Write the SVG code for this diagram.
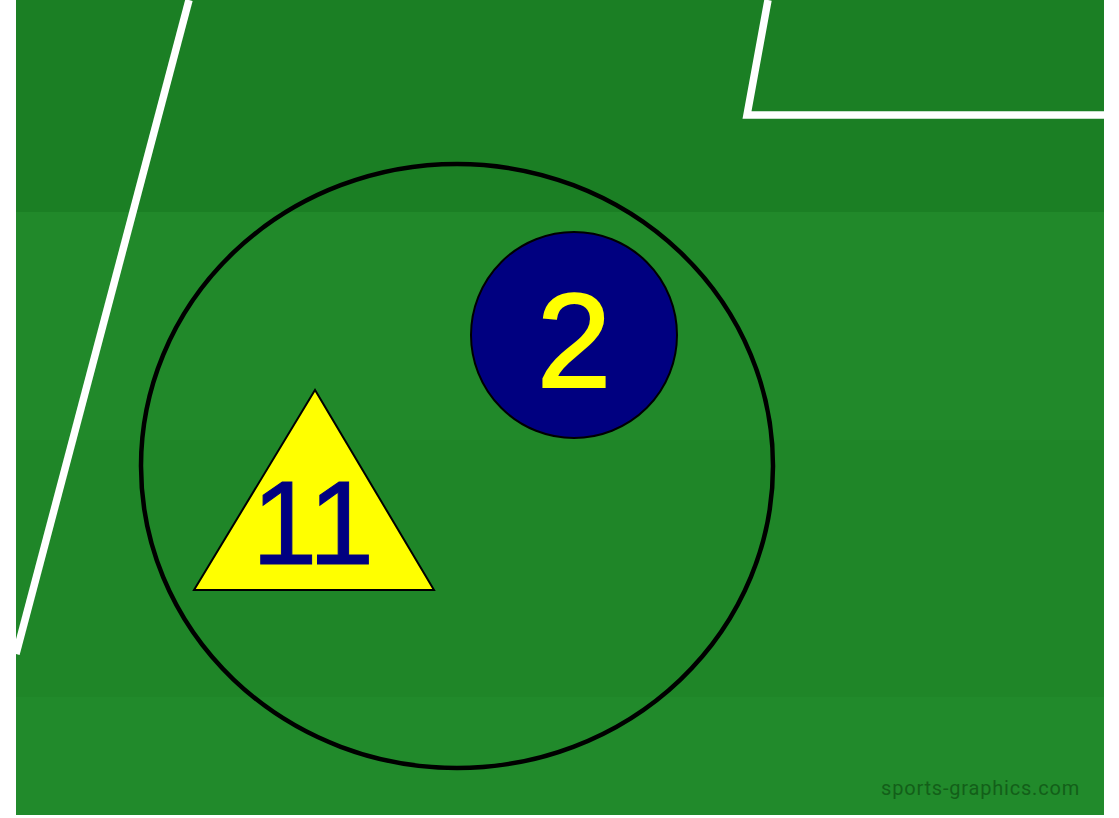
<svg xmlns="http://www.w3.org/2000/svg" width="1119" height="818" viewBox="0 0 1119 818">
  <style>
    .line { stroke: #ffffff; stroke-width: 7.5; fill: none; }
    .num { font-family: 'Liberation Sans', sans-serif; text-anchor: middle; }
  </style>
  <rect x="0" y="0" width="1119" height="818" fill="#ffffff"/>
  <g id="field">
    <rect x="16" y="0" width="1088" height="212" fill="#1b7f24"/>
    <rect x="16" y="212" width="1088" height="228" fill="#21892a"/>
    <rect x="16" y="440" width="1088" height="257" fill="#1f8628"/>
    <rect x="16" y="697" width="1088" height="118" fill="#218a2b"/>
    <path class="line" d="M189,0 L16,654"/>
    <path class="line" d="M768,0 L747,115 L1104,115"/>
  </g>
  <g id="zone">
    <ellipse cx="457" cy="466" rx="316" ry="302" fill="none" stroke="#000000" stroke-width="4.5"/>
  </g>
  <g id="player-2">
    <circle cx="574" cy="335" r="103" fill="#000080" stroke="#000000" stroke-width="2"/>
    <text class="num" x="574" y="387" font-size="134" fill="#ffff00" stroke="#ffff00" stroke-width="2">2</text>
  </g>
  <g id="player-11">
    <polygon points="315,390 194,590 434,590" fill="#ffff00" stroke="#000000" stroke-width="2"/>
    <text class="num" x="313" y="564" font-size="118" fill="#000080" stroke="#000080" stroke-width="1">11</text>
  </g>
  <text x="1080" y="795" font-family="Roboto, 'Liberation Sans', sans-serif" font-size="20" letter-spacing="0.8" fill="#135f19" text-anchor="end">sports-graphics.com</text>
</svg>
